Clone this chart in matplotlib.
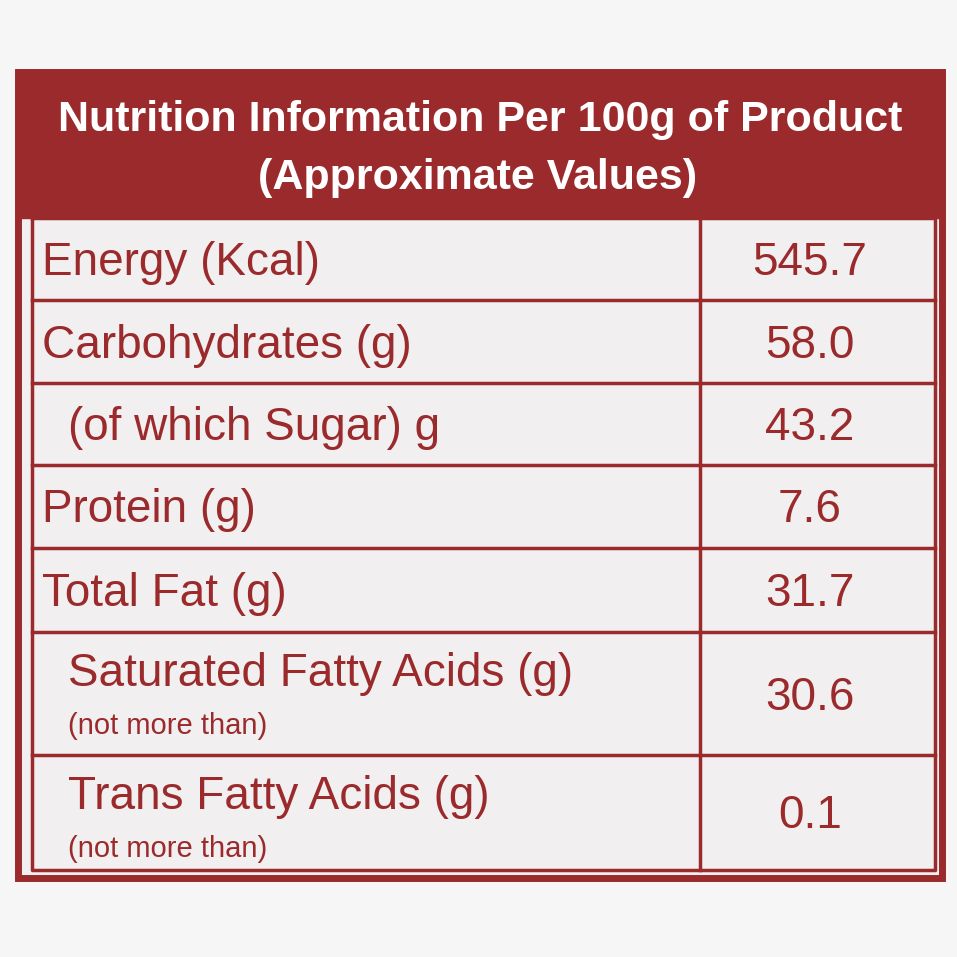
import matplotlib.pyplot as plt
from matplotlib.patches import Rectangle

title_lines = ["Nutrition Information Per 100g of Product", "(Approximate Values)"]
labels = ["Energy (Kcal)", "Carbohydrates (g)", "(of which Sugar) g", "Protein (g)",
          "Total Fat (g)", "Saturated Fatty Acids (g)", "Trans Fatty Acids (g)"]
sublabels = ["", "", "", "", "", "(not more than)", "(not more than)"]
indent = [0, 0, 1, 0, 0, 1, 1]
values = ["545.7", "58.0", "43.2", "7.6", "31.7", "30.6", "0.1"]
row_edges = [218, 300, 383, 465, 548, 632, 755, 870]

red = "#9b2a2c"
font = "Liberation Sans"
fig = plt.figure(figsize=(9.57, 9.57), dpi=100)
fig.patch.set_facecolor("#f6f6f6")
ax = fig.add_axes([0, 0, 1, 1])
ax.set_xlim(0, 957)
ax.set_ylim(957, 0)
ax.axis("off")

# outer frame and header band
ax.add_patch(Rectangle((18, 72), 924, 806, facecolor="#f1efef", edgecolor=red, lw=5))
ax.add_patch(Rectangle((18, 72), 924, 146, facecolor=red, edgecolor=red))
ax.text(480, 120, title_lines[0], color="white", fontsize=31, fontweight="bold",
        ha="center", va="center", family=font)
ax.text(478, 178, title_lines[1], color="white", fontsize=31, fontweight="bold",
        ha="center", va="center", family=font)

# grid
for y in row_edges[1:-1]:
    ax.plot([32, 935], [y, y], color=red, lw=2.5)
ax.plot([32, 935, 935, 32, 32], [218, 218, 870, 870, 218], color=red, lw=2.5)
ax.plot([700, 700], [218, 870], color=red, lw=2.5)

for i, (lab, sub, val) in enumerate(zip(labels, sublabels, values)):
    top, bot = row_edges[i], row_edges[i + 1]
    x = 68 if indent[i] else 42
    if sub:
        ax.text(x, top + 42, lab, fontsize=33, color=red, va="center", family=font)
        ax.text(x, top + 94, sub, fontsize=21, color=red, va="center", family=font)
    else:
        ax.text(x, (top + bot) / 2 + 4, lab, fontsize=33, color=red, va="center", family=font)
    ax.text(810, (top + bot) / 2 + 4, val, fontsize=33, color=red, va="center",
            ha="center", family=font)

fig.savefig("out.png", dpi=100, facecolor=fig.get_facecolor())
